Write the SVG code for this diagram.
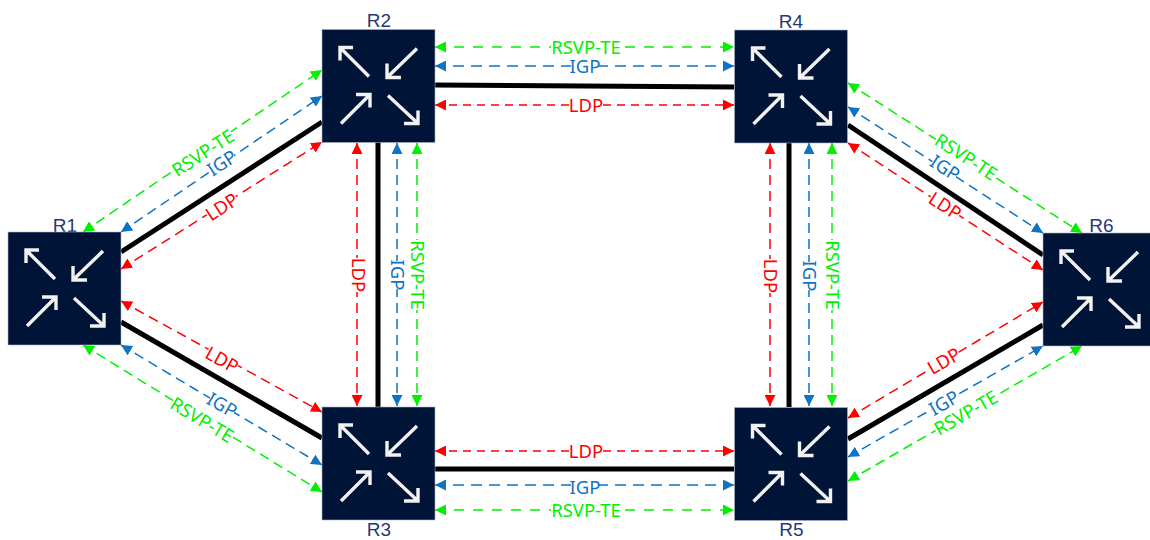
<svg xmlns="http://www.w3.org/2000/svg" width="1150" height="540" viewBox="0 0 1150 540">
<style>
.box{fill:#001437;stroke:#a9b3c6;stroke-width:.6}
.ic{fill:none;stroke:#f2f2f2;stroke-width:3.4}
.nm{font:19px "Liberation Sans",Arial,sans-serif;fill:#1f3a78;text-anchor:middle}
.link{stroke:#000;stroke-width:5;fill:none}
.d{fill:none;stroke-width:1.5;stroke-dasharray:10 6}
.hg{stroke-dasharray:10 9}
.hb{stroke-dasharray:11 7}
.hr{stroke-dasharray:8 6}
.g{stroke:#00f000;marker-start:url(#mg);marker-end:url(#mg)}
.b{stroke:#0f73c4;marker-start:url(#mb);marker-end:url(#mb)}
.r{stroke:#ff0000;marker-start:url(#mr);marker-end:url(#mr)}
.t{font:18.5px "Noto Sans",sans-serif;text-anchor:middle;dominant-baseline:central;transform:translateY(-1px)}
.tg{fill:#00f000}.tb{fill:#0f73c4}.tr{fill:#ff0000}
.bg{fill:#fff}
</style>
<defs>
<marker id="mg" viewBox="0 0 11 11" refX="11" refY="5.5" markerWidth="11" markerHeight="11" markerUnits="userSpaceOnUse" orient="auto-start-reverse"><path d="M0 0L11 5.5L0 11Z" fill="#00f000"/></marker>
<marker id="mb" viewBox="0 0 11 11" refX="11" refY="5.5" markerWidth="11" markerHeight="11" markerUnits="userSpaceOnUse" orient="auto-start-reverse"><path d="M0 0L11 5.5L0 11Z" fill="#0f73c4"/></marker>
<marker id="mr" viewBox="0 0 11 11" refX="11" refY="5.5" markerWidth="11" markerHeight="11" markerUnits="userSpaceOnUse" orient="auto-start-reverse"><path d="M0 0L11 5.5L0 11Z" fill="#ff0000"/></marker>
<g id="router">
<rect class="box" width="113" height="113"/>
<path class="ic" d="M47 47L18 18M31 18H18V31M95 19L65 48M79 48H65V34M19 94L48 65M34 65H48V78M66 66L96 94M82 94H96V81"/>
</g>
</defs>
<g id="connectors">
<g id="links">
<path class="link" d="M121 252L322 122"/>
<path class="link" d="M121 322L322 438"/>
<path class="link" d="M435 85L734 87"/>
<path class="link" d="M435 469H734"/>
<path class="link" d="M378 142V407"/>
<path class="link" d="M789 143V407"/>
<path class="link" d="M848 125L1043 255"/>
<path class="link" d="M848 439L1043 325"/>
</g>
<g id="dashed">
<path class="d g" d="M83 232L322 70"/>
<path class="d b" d="M121 232L322 96"/>
<path class="d r" d="M121 269L322 142"/>
<path class="d r" d="M121 301L322 412"/>
<path class="d b" d="M121 345L322 465"/>
<path class="d g" d="M83 345L322 492"/>
<path class="d g hg" d="M435 47H734"/>
<path class="d b hb" d="M435 66H734"/>
<path class="d r hr" d="M435 105H734"/>
<path class="d r hr" d="M435 451H734"/>
<path class="d b hb" d="M435 485H734"/>
<path class="d g hg" d="M435 510H734"/>
<path class="d r" d="M357 143V406"/>
<path class="d b" d="M397 143V406"/>
<path class="d g" d="M417 143V406"/>
<path class="d r" d="M770 143V406"/>
<path class="d b" d="M809 143V406"/>
<path class="d g" d="M832 143V406"/>
<path class="d g" d="M848 83L1082 233"/>
<path class="d b" d="M848 107L1043 233"/>
<path class="d r" d="M848 143L1043 270"/>
<path class="d r" d="M848 418L1043 302"/>
<path class="d b" d="M848 457L1043 346"/>
<path class="d g" d="M848 481L1082 346"/>
</g>
<g id="labels">
<g transform="translate(203 153) rotate(-33)"><rect class="bg" x="-35" y="-7" width="70" height="14"/><text class="t tg">RSVP-TE</text></g>
<g transform="translate(222 163) rotate(-33)"><rect class="bg" x="-14" y="-7" width="28" height="14"/><text class="t tb">IGP</text></g>
<g transform="translate(222 207) rotate(-33)"><rect class="bg" x="-17" y="-7" width="34" height="14"/><text class="t tr">LDP</text></g>
<g transform="translate(222 360) rotate(29)"><rect class="bg" x="-17" y="-7" width="34" height="14"/><text class="t tr">LDP</text></g>
<g transform="translate(222 405) rotate(30)"><rect class="bg" x="-14" y="-7" width="28" height="14"/><text class="t tb">IGP</text></g>
<g transform="translate(202 420) rotate(31)"><rect class="bg" x="-35" y="-7" width="70" height="14"/><text class="t tg">RSVP-TE</text></g>
<g transform="translate(586 47)"><rect class="bg" x="-35" y="-7" width="70" height="14"/><text class="t tg">RSVP-TE</text></g>
<g transform="translate(585 66)"><rect class="bg" x="-14" y="-7" width="28" height="14"/><text class="t tb">IGP</text></g>
<g transform="translate(586 105)"><rect class="bg" x="-17" y="-7" width="34" height="14"/><text class="t tr">LDP</text></g>
<g transform="translate(586 451)"><rect class="bg" x="-17" y="-7" width="34" height="14"/><text class="t tr">LDP</text></g>
<g transform="translate(585 487)"><rect class="bg" x="-14" y="-7" width="28" height="14"/><text class="t tb">IGP</text></g>
<g transform="translate(586 510)"><rect class="bg" x="-35" y="-7" width="70" height="14"/><text class="t tg">RSVP-TE</text></g>
<g transform="translate(358 275) rotate(90)"><rect class="bg" x="-17" y="-7" width="34" height="14"/><text class="t tr">LDP</text></g>
<g transform="translate(397 275) rotate(90)"><rect class="bg" x="-14" y="-7" width="28" height="14"/><text class="t tb">IGP</text></g>
<g transform="translate(417 275) rotate(90)"><rect class="bg" x="-35" y="-7" width="70" height="14"/><text class="t tg">RSVP-TE</text></g>
<g transform="translate(770 276) rotate(90)"><rect class="bg" x="-17" y="-7" width="34" height="14"/><text class="t tr">LDP</text></g>
<g transform="translate(809 276) rotate(90)"><rect class="bg" x="-14" y="-7" width="28" height="14"/><text class="t tb">IGP</text></g>
<g transform="translate(832 275) rotate(90)"><rect class="bg" x="-35" y="-7" width="70" height="14"/><text class="t tg">RSVP-TE</text></g>
<g transform="translate(966 157) rotate(33)"><rect class="bg" x="-35" y="-7" width="70" height="14"/><text class="t tg">RSVP-TE</text></g>
<g transform="translate(945 168) rotate(33)"><rect class="bg" x="-14" y="-7" width="28" height="14"/><text class="t tb">IGP</text></g>
<g transform="translate(945 206) rotate(33)"><rect class="bg" x="-17" y="-7" width="34" height="14"/><text class="t tr">LDP</text></g>
<g transform="translate(944 361) rotate(-30)"><rect class="bg" x="-17" y="-7" width="34" height="14"/><text class="t tr">LDP</text></g>
<g transform="translate(944 403) rotate(-30)"><rect class="bg" x="-14" y="-7" width="28" height="14"/><text class="t tb">IGP</text></g>
<g transform="translate(966 413) rotate(-30)"><rect class="bg" x="-35" y="-7" width="70" height="14"/><text class="t tg">RSVP-TE</text></g>
</g>
</g>
<g id="R1"><text class="nm" x="65" y="232">R1</text><use href="#router" x="8" y="232"/></g>
<g id="R2"><text class="nm" x="379" y="27">R2</text><use href="#router" x="322" y="29.5"/></g>
<g id="R3"><use href="#router" x="322" y="407"/><text class="nm" x="379" y="536">R3</text></g>
<g id="R4"><text class="nm" x="791" y="28">R4</text><use href="#router" x="734.5" y="30"/></g>
<g id="R5"><use href="#router" x="734.5" y="407.5"/><text class="nm" x="791.5" y="536">R5</text></g>
<g id="R6"><text class="nm" x="1101.5" y="232">R6</text><use href="#router" x="1043" y="233"/></g>
</svg>
